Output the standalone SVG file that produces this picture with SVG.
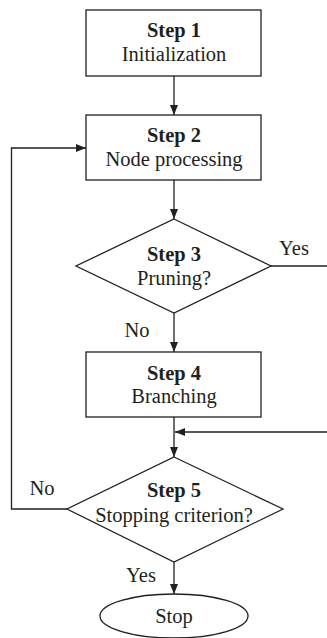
<svg xmlns="http://www.w3.org/2000/svg" width="327" height="638" viewBox="0 0 327 638">
<style>
.s{fill:#fff;stroke:#231f20;stroke-width:1.3}
.c{fill:none;stroke:#231f20;stroke-width:1.3}
text{font-family:'Liberation Serif','Tinos','Times New Roman','DejaVu Serif',serif;font-size:20.5px;fill:#231f20;text-anchor:middle}
.b{font-weight:bold}
</style>
<defs>
<marker id="a" markerWidth="10" markerHeight="8" refX="10" refY="4" orient="auto" markerUnits="userSpaceOnUse">
<path d="M0,0 L10,4 L0,8 Z" fill="#231f20"/>
</marker>
</defs>
<g id="connectors" font-family="Liberation Serif, serif">
<path class="c" d="M174,76 V115" marker-end="url(#a)"/>
<path class="c" d="M174,180 V219" marker-end="url(#a)"/>
<path class="c" d="M271,266 H327"/>
<path class="c" d="M174,313 V352" marker-end="url(#a)"/>
<path class="c" d="M174,417 V457" marker-end="url(#a)"/>
<path class="c" d="M327,432 H175" marker-end="url(#a)"/>
<path class="c" d="M67,509 H11.5 V148 H86" marker-end="url(#a)"/>
<path class="c" d="M174,562 V594" marker-end="url(#a)"/>
<text x="294" y="255">Yes</text>
<text x="137" y="337">No</text>
<text x="42" y="495">No</text>
<text x="141" y="582">Yes</text>
</g>
<g id="step1">
<rect class="s" x="86" y="10" width="175" height="66"/>
<text class="b" x="174" y="37">Step 1</text>
<text x="174" y="61">Initialization</text>
</g>
<g id="step2">
<rect class="s" x="86" y="115" width="175" height="65"/>
<text class="b" x="174" y="142">Step 2</text>
<text x="174" y="166">Node processing</text>
</g>
<g id="step3">
<polygon class="s" points="174,219 271,266 174,313 76,266"/>
<text class="b" x="174" y="261">Step 3</text>
<text x="174" y="285">Pruning?</text>
</g>
<g id="step4">
<rect class="s" x="86" y="352" width="175" height="65"/>
<text class="b" x="174" y="380">Step 4</text>
<text x="174" y="403">Branching</text>
</g>
<g id="step5">
<polygon class="s" points="174,457 283,509 174,562 67,509"/>
<text class="b" x="174" y="497">Step 5</text>
<text x="174" y="522">Stopping criterion?</text>
</g>
<g id="stop">
<ellipse class="s" cx="174" cy="616" rx="74" ry="22"/>
<text x="174" y="623">Stop</text>
</g>
</svg>
